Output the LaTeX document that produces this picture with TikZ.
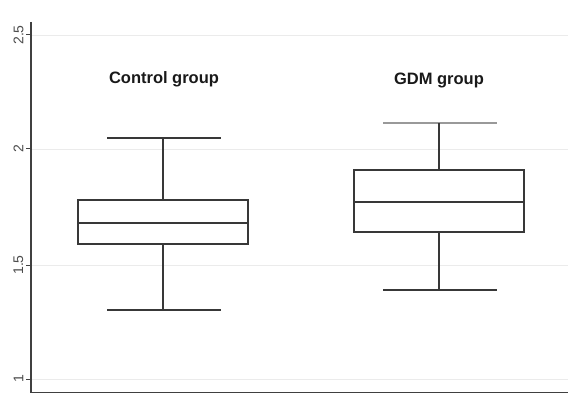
\documentclass[tikz,border=0pt]{standalone}
\usepackage{fontspec}
\setmainfont{Liberation Sans}
\begin{document}
\begin{tikzpicture}[x=1pt,y=-1pt,
  grid/.style={draw=black!8,line width=0.8pt},
  axisline/.style={draw=black!75,line width=1.4pt},
  boxline/.style={draw=black!78,line width=1.1pt},
  ticklabel/.style={text=black!70,font=\fontsize{14}{14}\selectfont,rotate=90,inner sep=0pt},
  grouplabel/.style={text=black!90,font=\fontsize{16.5}{16.5}\selectfont\bfseries,inner sep=0pt}]
\useasboundingbox[fill=white] (0,0) rectangle (568,393);
% gridlines
\foreach \y in {35,149,265,379} \draw[grid] (32,\y) -- (568,\y);
% axes
\draw[axisline] (31,22) -- (31,392.3) -- (568,392.3);
\foreach \y/\t in {35/2.5,149/2,265/1.5,379/1} {
  \draw[axisline,line width=1pt] (26,\y) -- (31,\y);
  \node[ticklabel] (t\t) at (18.5,\y) {\t};
}
% Control group
\node[grouplabel] (lc) at (164,79) {Control group};
\draw[boxline] (107,138) -- (221,138);
\draw[boxline] (163,138) -- (163,200);
\draw[boxline] (78,200) rectangle (248,244);
\draw[boxline] (78,223) -- (248,223);
\draw[boxline] (163,244) -- (163,310);
\draw[boxline] (107,310) -- (221,310);
% GDM group
\node[grouplabel] (lg) at (439,80) {GDM group};
\draw[boxline,draw=black!40] (383,123) -- (497,123);
\draw[boxline] (439,123) -- (439,170);
\draw[boxline] (354,170) rectangle (524,232);
\draw[boxline] (354,202) -- (524,202);
\draw[boxline] (439,232) -- (439,290);
\draw[boxline] (383,290) -- (497,290);
\end{tikzpicture}
\end{document}
